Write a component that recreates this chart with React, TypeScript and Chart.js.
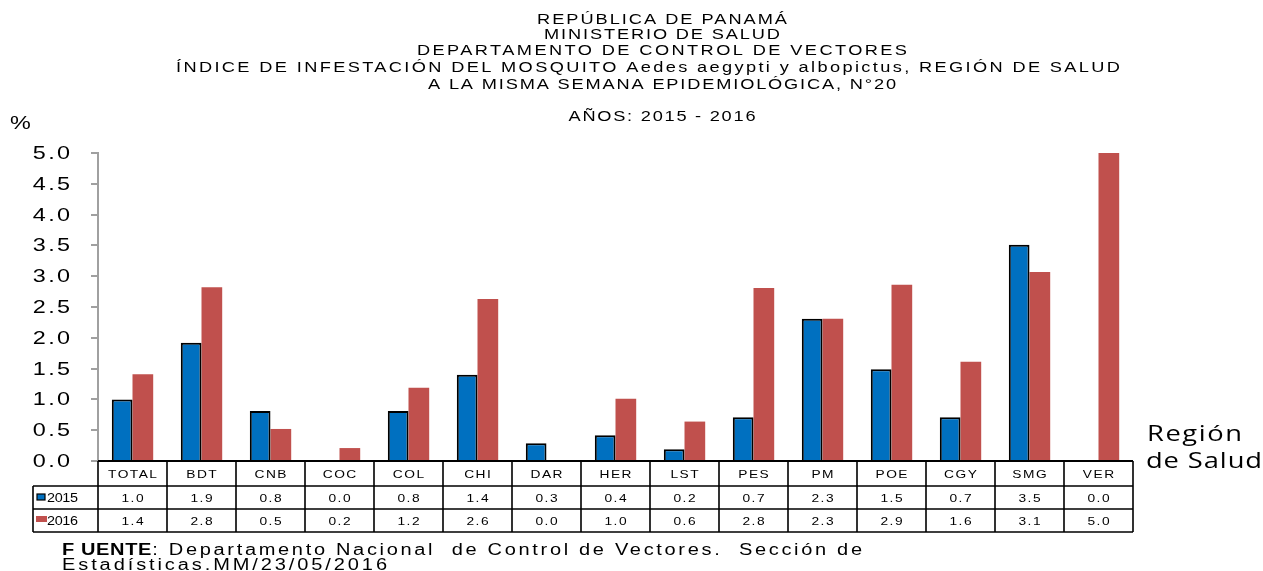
import React, { useEffect, useRef } from "react";
import { Chart, registerables } from "chart.js";

Chart.register(...registerables);

const CATEGORIES = ["TOTAL", "BDT", "CNB", "COC", "COL", "CHI", "DAR", "HER", "LST", "PES", "PM", "POE", "CGY", "SMG", "VER"];
const SERIES_NAMES = ["2015", "2016"];
const VALUES_2015 = [1.0, 1.92, 0.81, 0.0, 0.81, 1.4, 0.29, 0.42, 0.19, 0.71, 2.31, 1.49, 0.71, 3.51, 0.0];
const VALUES_2016 = [1.41, 2.82, 0.52, 0.21, 1.19, 2.63, 0.0, 1.01, 0.64, 2.81, 2.31, 2.86, 1.61, 3.07, 5.0];
const Y_MIN = 0;
const Y_MAX = 5;
const Y_STEP = 0.5;

const TITLE_LINES = [
  "REPÚBLICA DE PANAMÁ",
  "MINISTERIO DE SALUD",
  "DEPARTAMENTO DE CONTROL DE VECTORES",
  "ÍNDICE DE INFESTACIÓN DEL MOSQUITO Aedes aegypti y albopictus, REGIÓN DE SALUD",
  "A LA MISMA SEMANA EPIDEMIOLÓGICA, N°20",
];
const SUBTITLE = "AÑOS: 2015 - 2016";
const Y_UNIT = "%";
const X_TITLE = ["Región", "de Salud"];
const SOURCE_BOLD = "F UENTE";
const SOURCE_LINE1 = ": Departamento Nacional  de Control de Vectores.  Sección de";
const SOURCE_LINE2 = "Estadísticas.MM/23/05/2016";

const BLUE = "#0070C0";
const RED = "#C0504D";
const FONT = "'Liberation Sans', Arial, sans-serif";

// Draws text with a horizontal scale (sx) and letter spacing (ls), or fitted to a width.
function drawText(
  ctx: CanvasRenderingContext2D,
  text: string,
  x: number,
  y: number,
  font: string,
  opts: { align?: CanvasTextAlign; baseline?: CanvasTextBaseline; ls?: number; sx?: number; width?: number; color?: string } = {}
) {
  ctx.save();
  ctx.font = font;
  const anyCtx = ctx as any;
  const hasLS = "letterSpacing" in anyCtx;
  if (hasLS) anyCtx.letterSpacing = "0px";
  const w0 = ctx.measureText(text).width;
  const chars = Array.from(text).length;
  let sx = opts.sx ?? 1;
  let ls = opts.ls ?? 0;
  if (opts.width) {
    if (!hasLS) {
      sx = opts.width / w0;
      ls = 0;
    } else {
      ls = (opts.width / sx - w0) / Math.max(1, chars - 1);
    }
  }
  const total = sx * (w0 + ls * (chars - 1));
  let left = x;
  const align = opts.align ?? "left";
  if (align === "center") left = x - total / 2;
  else if (align === "right") left = x - total;
  ctx.textBaseline = opts.baseline ?? "alphabetic";
  ctx.fillStyle = opts.color ?? "#000";
  ctx.textAlign = "left";
  if (hasLS) anyCtx.letterSpacing = `${ls}px`;
  ctx.translate(left, y);
  ctx.scale(sx, 1);
  ctx.fillText(text, 0, 0);
  ctx.restore();
  return total;
}

const decorPlugin = {
  id: "decor",
  afterDraw(chart: any) {
    const ctx: CanvasRenderingContext2D = chart.ctx;
    const area = chart.chartArea;
    const xs = chart.scales.x;
    const ys = chart.scales.y;
    const n = CATEGORIES.length;
    const cw = (area.right - area.left) / n;

    // Titles
    const titleFont = `14px ${FONT}`;
    const tsx = 1.3;
    const tl = [
      { y: 24, x: 662, w: 250 },
      { y: 39, x: 662, w: 236 },
      { y: 55, x: 662, w: 490 },
      { y: 72, x: 648, w: 944 },
      { y: 89, x: 662, w: 468 },
    ];
    TITLE_LINES.forEach((t, i) => {
      drawText(ctx, t, tl[i].x, tl[i].y, titleFont, { align: "center", width: tl[i].w, sx: tsx });
    });
    drawText(ctx, SUBTITLE, 662, 121, titleFont, { align: "center", width: 187, sx: tsx });
    drawText(ctx, Y_UNIT, 10, 129, `18px ${FONT}`, { sx: 1.3 });

    // Y tick labels
    ys.ticks.forEach((t: any, i: number) => {
      const py = ys.getPixelForTick(i);
      drawText(ctx, Number(t.value).toFixed(1), 70, py + 1, `18px ${FONT}`, { align: "right", baseline: "middle", sx: 1.3, ls: 1.8 });
    });

    // Table
    const top = area.bottom;
    const r1 = 486;
    const r2 = 509;
    const r3 = 532;
    const legL = 33;
    ctx.save();
    ctx.strokeStyle = "#000";
    ctx.lineWidth = 2;
    ctx.beginPath();
    ctx.moveTo(area.left, top);
    ctx.lineTo(area.right, top);
    ctx.stroke();
    ctx.lineWidth = 1.6;
    ctx.beginPath();
    [r1, r2, r3].forEach((yy) => {
      ctx.moveTo(legL, yy);
      ctx.lineTo(area.right, yy);
    });
    for (let k = 0; k <= n; k++) {
      const bx = area.left + k * cw;
      ctx.moveTo(bx, top);
      ctx.lineTo(bx, r3);
    }
    ctx.moveTo(legL, r1);
    ctx.lineTo(legL, r3);
    ctx.stroke();
    ctx.restore();

    const tFont = `11px ${FONT}`;
    const cellOpts = { align: "center" as CanvasTextAlign, baseline: "middle" as CanvasTextBaseline, sx: 1.25, ls: 1.2 };
    CATEGORIES.forEach((c, i) => {
      const cx = xs.getPixelForValue(i);
      drawText(ctx, c, cx, (top + r1) / 2 + 1, tFont, cellOpts);
      drawText(ctx, VALUES_2015[i].toFixed(1), cx, (r1 + r2) / 2 + 1, tFont, cellOpts);
      drawText(ctx, VALUES_2016[i].toFixed(1), cx, (r2 + r3) / 2 + 1, tFont, cellOpts);
    });

    // Legend keys
    ctx.save();
    ctx.fillStyle = BLUE;
    ctx.fillRect(37, 494, 8, 6);
    ctx.strokeStyle = "#000";
    ctx.lineWidth = 1.2;
    ctx.strokeRect(37, 494, 8, 6);
    ctx.fillStyle = RED;
    ctx.fillRect(36, 516, 11, 6);
    ctx.restore();
    drawText(ctx, SERIES_NAMES[0], 47, (r1 + r2) / 2 + 1, `12px ${FONT}`, { baseline: "middle", width: 31, sx: 1.2 });
    drawText(ctx, SERIES_NAMES[1], 47, (r2 + r3) / 2 + 1, `12px ${FONT}`, { baseline: "middle", width: 31, sx: 1.2 });

    // Axis title at right
    const rf = `21px 'Open Sans', 'Noto Sans', sans-serif`;
    drawText(ctx, X_TITLE[0], 1147, 441, rf, { width: 95, sx: 1.3 });
    drawText(ctx, X_TITLE[1], 1146, 468, rf, { width: 116, sx: 1.3 });

    // Source
    const bf = `bold 16px ${FONT}`;
    const nf = `16px ${FONT}`;
    const wb = drawText(ctx, SOURCE_BOLD, 62, 555, bf, { sx: 1.25, ls: 0.5 });
    drawText(ctx, SOURCE_LINE1, 62 + wb + 1, 555, nf, { width: 800 - wb - 1, sx: 1.25 });
    drawText(ctx, SOURCE_LINE2, 62, 570, nf, { width: 325, sx: 1.25 });
  },
};

export default function App() {
  const ref = useRef<HTMLCanvasElement | null>(null);
  useEffect(() => {
    if (!ref.current) return;
    const chart = new Chart(ref.current, {
      type: "bar",
      data: {
        labels: CATEGORIES,
        datasets: [
          {
            label: SERIES_NAMES[0],
            data: VALUES_2015,
            backgroundColor: BLUE,
            borderColor: "#000",
            borderWidth: 2,
            categoryPercentage: 0.6,
            barPercentage: 1.0,
          },
          {
            label: SERIES_NAMES[1],
            data: VALUES_2016,
            backgroundColor: RED,
            borderWidth: 0,
            categoryPercentage: 0.6,
            barPercentage: 1.0,
          },
        ],
      },
      options: {
        responsive: false,
        animation: false,
        layout: { padding: { left: 0, right: 130, top: 153, bottom: 110 } },
        plugins: { legend: { display: false }, title: { display: false }, tooltip: { enabled: false } },
        scales: {
          x: { display: false },
          y: {
            min: Y_MIN,
            max: Y_MAX,
            ticks: { stepSize: Y_STEP, display: false },
            grid: { drawOnChartArea: false, color: "#a0a0a0", lineWidth: 2, tickLength: 7 },
            border: { display: true, color: "#a0a0a0", width: 2 },
            afterFit: (scale: any) => {
              scale.width = 98;
            },
          },
        },
      },
      plugins: [decorPlugin],
    });
    return () => chart.destroy();
  }, []);
  return (
    <div style={{ position: "fixed", left: 0, top: 0, width: 1263, height: 571, background: "#fff" }}>
      <canvas ref={ref} width={1263} height={571} style={{ display: "block" }} />
    </div>
  );
}
